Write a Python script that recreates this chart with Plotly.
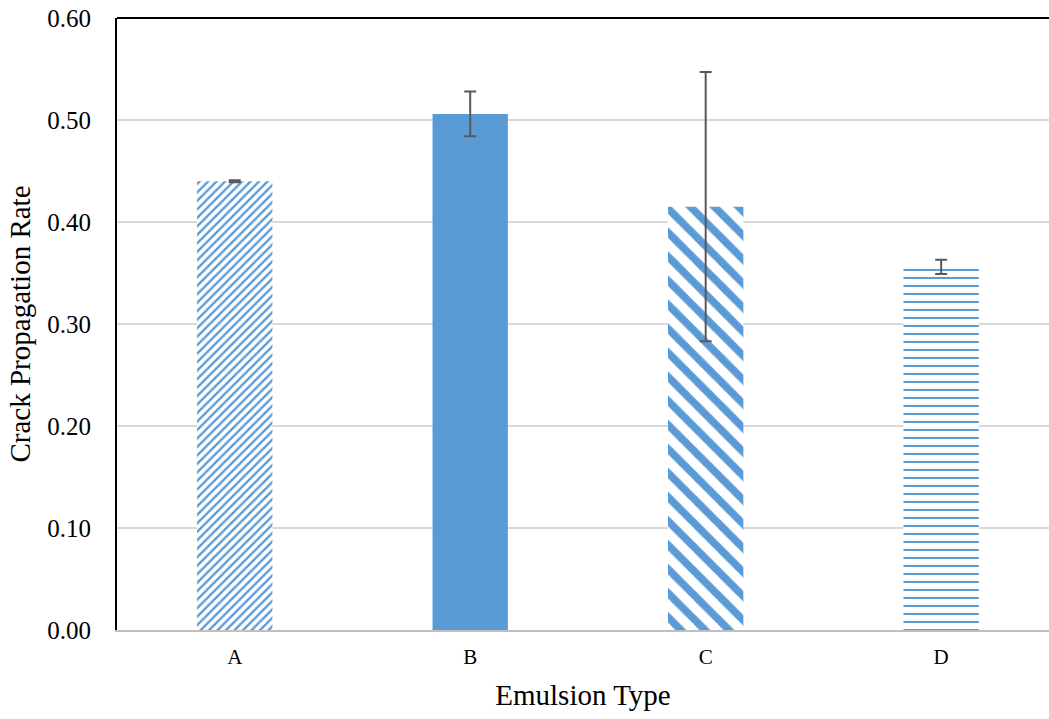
import plotly.graph_objects as go

# data
emulsion = ['A', 'B', 'C', 'D']
rate = [0.440, 0.506, 0.415, 0.356]
rate_err = [0.001, 0.022, 0.132, 0.007]
y_ticks = [0.0, 0.1, 0.2, 0.3, 0.4, 0.5, 0.6]

blue = '#5b9bd5'
shapes = ['/', '', '\\', '-']
sizes = [6, 8, 17, 8]
solid = [0.4, 0.5, 0.45, 0.25]

fig = go.Figure()
fig.add_trace(go.Bar(
    x=emulsion, y=rate,
    marker={
        'color': blue,
        'line': {'width': 0},
        'pattern': {
            'shape': shapes,
            'fgcolor': [blue] * 4,
            'bgcolor': ['white'] * 4,
            'size': sizes,
            'solidity': solid,
            'fillmode': 'replace',
        },
    },
    error_y={'type': 'data', 'array': rate_err, 'visible': True,
             'color': '#595959', 'thickness': 2, 'width': 6},
))

fig.update_layout({
    'width': 1049,
    'height': 719,
    'margin': {'t': 18, 'b': 89, 'l': 117, 'r': 0},
    'plot_bgcolor': 'white',
    'paper_bgcolor': 'white',
    'bargap': 0.68,
    'showlegend': False,
    'font': {'family': 'Liberation Serif, Times New Roman, serif', 'color': 'black'},
    'shapes': [dict(type='line', xref='paper', yref='paper', x0=0, x1=1, y0=1, y1=1,
                    line=dict(color='black', width=2))],
})
fig.update_xaxes(range=[-0.5, 3.458], showline=True, linewidth=2, linecolor='#bfbfbf',
                 ticks='', tickfont_size=21, ticklabelstandoff=7, title_text='Emulsion Type',
                 title_font_size=29, title_standoff=16)
fig.update_yaxes(range=[0, 0.6], tickvals=y_ticks, tickformat='.2f', showline=True,
                 linewidth=2, linecolor='black', gridcolor='#d9d9d9', gridwidth=2,
                 zeroline=False, tickfont_size=25, ticks='', ticklen=0, ticklabelstandoff=19,
                 title_text='Crack Propagation Rate', title_font_size=29, title_standoff=8)

fig.write_html('out.html', config={'displayModeBar': False},
               post_script="document.body.style.margin='0';")
